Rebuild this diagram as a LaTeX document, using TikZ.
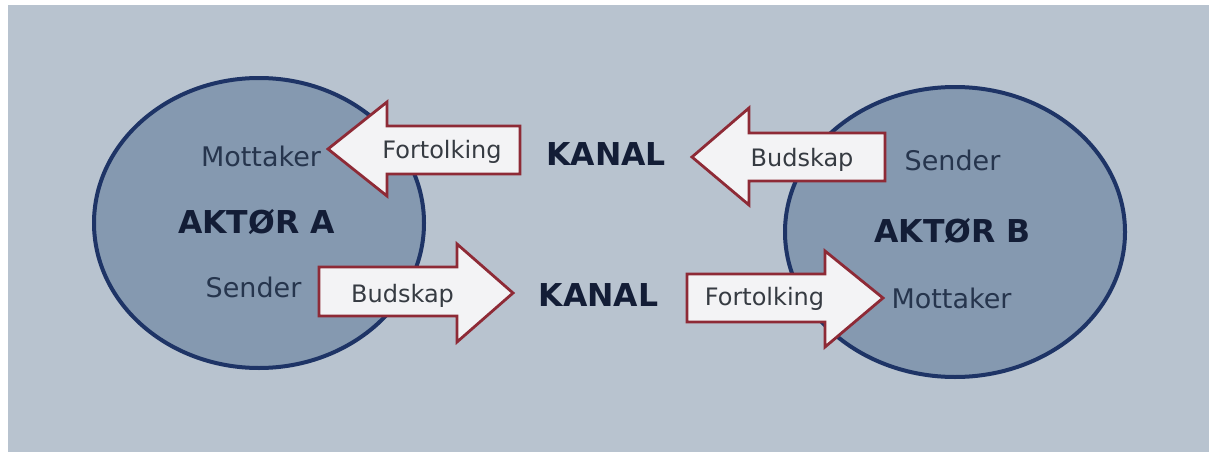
\documentclass[tikz,border=0pt]{standalone}
\usepackage{fontspec}
\setmainfont{DejaVu Sans}
\definecolor{paper}{HTML}{B8C3CF}
\definecolor{actorfill}{HTML}{8599B0}
\definecolor{actorline}{HTML}{1E3466}
\definecolor{arrowfill}{HTML}{F3F3F5}
\definecolor{arrowline}{HTML}{8E2A36}
\definecolor{labeltext}{HTML}{26354D}
\definecolor{boldtext}{HTML}{131D36}
\definecolor{arrowtext}{HTML}{363B42}
\tikzset{
  actor/.style={draw=actorline, line width=4pt, fill=actorfill},
  blockarrow/.style={draw=arrowline, line width=2.8pt, fill=arrowfill, line join=miter},
  rolelabel/.style={anchor=base, inner sep=0pt, text=labeltext,
    font=\fontsize{27}{30}\selectfont},
  actorname/.style={anchor=base, inner sep=0pt, text=boldtext,
    font=\fontsize{31.5}{34}\selectfont\bfseries},
  arrowlabel/.style={anchor=base, inner sep=0pt, text=arrowtext,
    font=\fontsize{24}{27}\selectfont},
}
\begin{document}
\begin{tikzpicture}[x=1pt,y=-1pt]
  % page and paper
  \fill[white] (0,0) rectangle (1209,452);
  \fill[paper] (8,5) rectangle (1209,452);
  \useasboundingbox (0,0) rectangle (1209,452);

  % the two actors
  \draw[actor] (259,223) ellipse [x radius=165, y radius=145];
  \draw[actor] (955,232) ellipse [x radius=170, y radius=145];

  % block arrows
  \draw[blockarrow] (328,149) -- (387,102) -- (387,126) -- (520,126)
    -- (520,174) -- (387,174) -- (387,196) -- cycle;
  \draw[blockarrow] (513,293) -- (457,244) -- (457,267) -- (319,267)
    -- (319,316) -- (457,316) -- (457,342) -- cycle;
  \draw[blockarrow] (692,157) -- (749,108) -- (749,133) -- (885,133)
    -- (885,181) -- (749,181) -- (749,205) -- cycle;
  \draw[blockarrow] (883,298) -- (825,251) -- (825,274) -- (687,274)
    -- (687,322) -- (825,322) -- (825,347) -- cycle;

  % actor texts
  \node[rolelabel]  (mottakerA) at (261,166) {Mottaker};
  \node[actorname]  (aktorA)    at (256.5,233) {AKTØR A};
  \node[rolelabel]  (senderA)   at (253.5,297) {Sender};
  \node[rolelabel]  (senderB)   at (952.5,170) {Sender};
  \node[actorname]  (aktorB)    at (952.5,242) {AKTØR B};
  \node[rolelabel]  (mottakerB) at (951.5,308) {Mottaker};

  % channels
  \node[actorname] (kanalTop) at (606,165) {KANAL};
  \node[actorname] (kanalBot) at (598.5,306.5) {KANAL};

  % arrow texts
  \node[arrowlabel] (fortA) at (442,158) {Fortolking};
  \node[arrowlabel] (budA)  at (402.5,302) {Budskap};
  \node[arrowlabel] (budB)  at (802,166) {Budskap};
  \node[arrowlabel] (fortB) at (764.5,305) {Fortolking};
\end{tikzpicture}
\end{document}
